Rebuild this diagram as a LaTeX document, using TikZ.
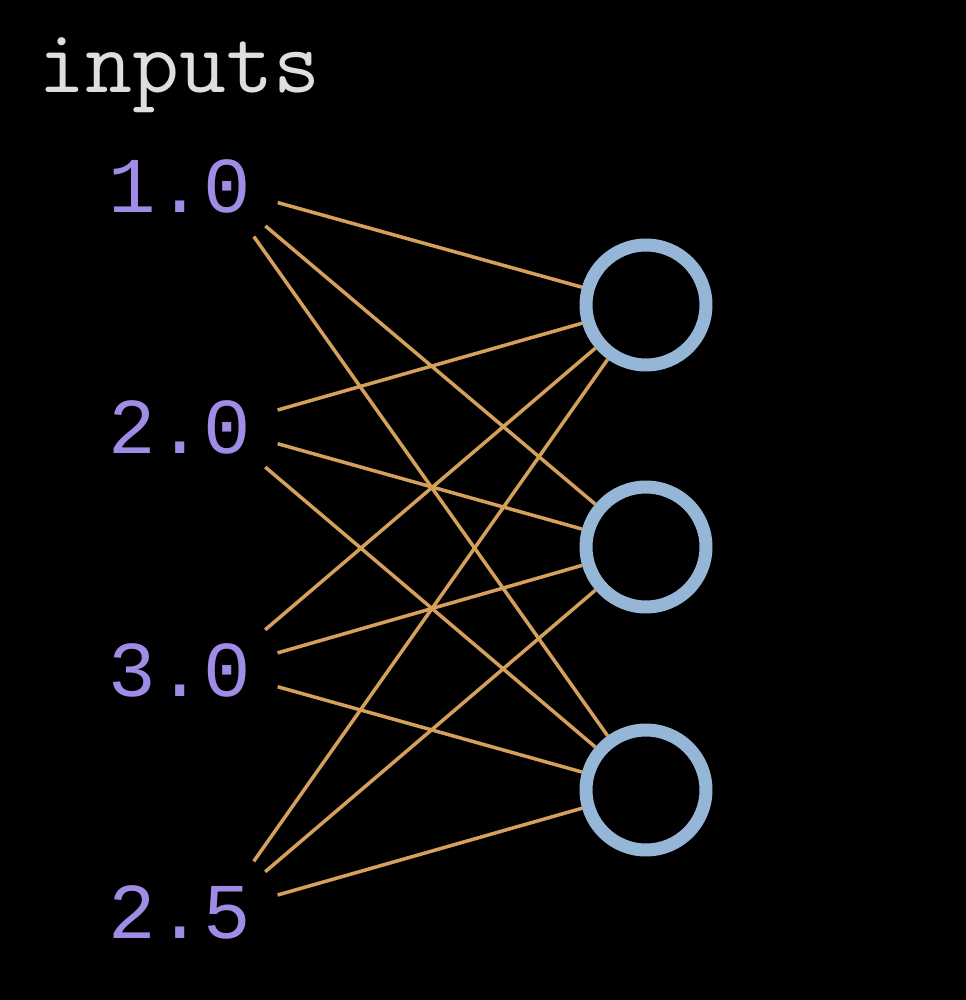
\documentclass[tikz,border=0pt]{standalone}
\usepackage{fontspec}
\newfontfamily\numfont{Liberation Mono}
\usetikzlibrary{positioning}
\definecolor{numcol}{RGB}{160,140,230}
\definecolor{wirecol}{RGB}{212,160,92}
\definecolor{ringcol}{RGB}{150,182,216}
\definecolor{labelcol}{RGB}{222,222,222}
\tikzset{num/.style={text=numcol,font=\numfont\fontsize{45}{54}\selectfont,inner sep=0},
         port/.style={circle,minimum size=2.48cm,inner sep=0,outer sep=0},
         neuron/.style={circle,draw=ringcol,line width=0.26cm,minimum size=2.4cm,inner sep=0},
         wire/.style={draw=wirecol,line width=0.07cm}
}

\begin{document}
\begin{tikzpicture}[x=0.02cm,y=-0.02cm]

\fill[black] (0,0) rectangle (966,1000);
\node[anchor=base west,inner sep=0,text=labelcol,font=\ttfamily\fontsize{52}{62}\selectfont] (title) at (38,93) {inputs};

\node[num] (x1) at (180,186) {1.0};
\node[num] (x2) at (180,427) {2.0};
\node[num] (x3) at (180,670) {3.0};
\node[num] (x4) at (180,912) {2.5};
\node[port] (p1) at (218,186) {};
\node[port] (p2) at (218,427) {};
\node[port] (p3) at (218,670) {};
\node[port] (p4) at (218,912) {};

\node[neuron] (n1) at (646,305) {};
\node[neuron] (n2) at (646,547) {};
\node[neuron] (n3) at (646,790) {};

\draw[wire] (p1)--(n1);
\draw[wire] (p1)--(n2);
\draw[wire] (p1)--(n3);
\draw[wire] (p2)--(n1);
\draw[wire] (p2)--(n2);
\draw[wire] (p2)--(n3);
\draw[wire] (p3)--(n1);
\draw[wire] (p3)--(n2);
\draw[wire] (p3)--(n3);
\draw[wire] (p4)--(n1);
\draw[wire] (p4)--(n2);
\draw[wire] (p4)--(n3);

\end{tikzpicture}
\end{document}
